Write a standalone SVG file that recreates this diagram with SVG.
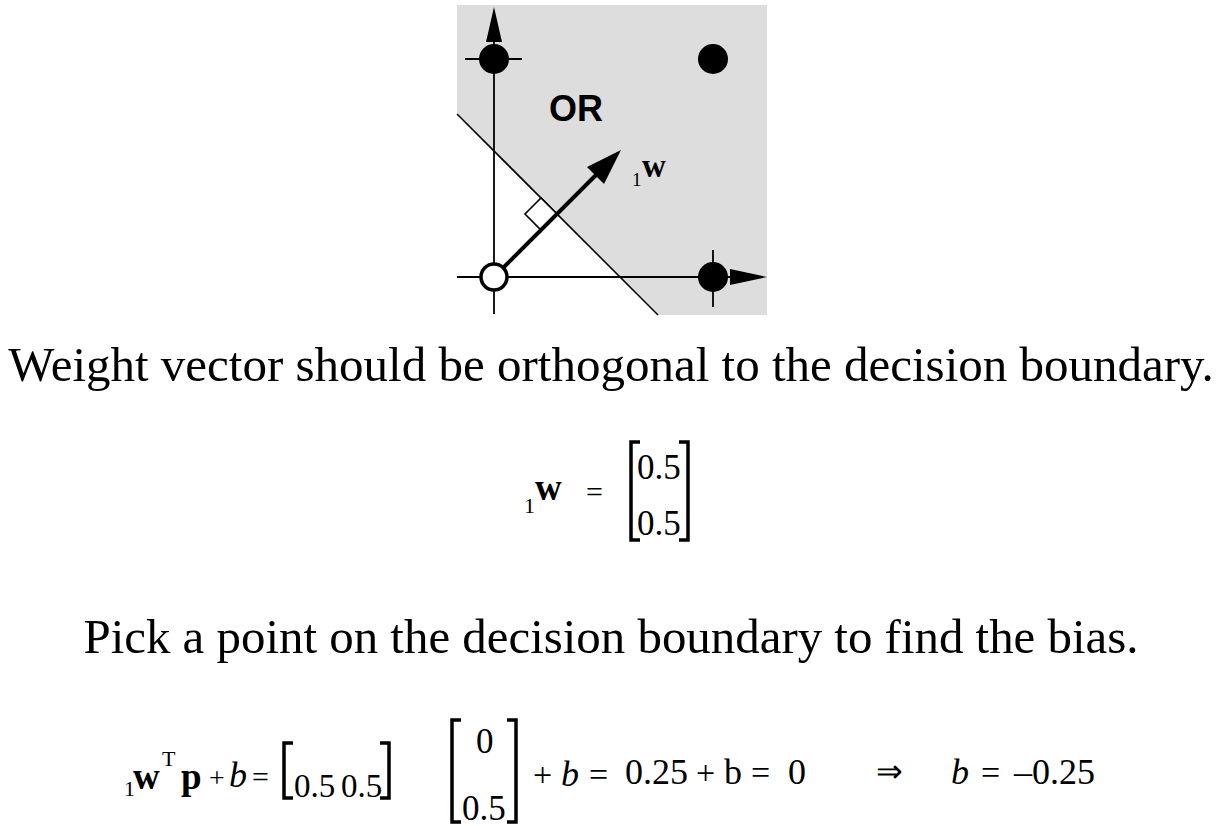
<svg xmlns="http://www.w3.org/2000/svg" width="1218" height="826" viewBox="0 0 1218 826">
<style>
.s{font-family:"Liberation Serif","Times New Roman",serif;fill:#000}
.bd{font-weight:bold}
.it{font-style:italic}
.ln{stroke:#000;fill:none}
.br{stroke:#000;fill:none;stroke-width:3.5}
</style>
<rect width="1218" height="826" fill="#fff"/>
<g id="plot">
  <rect x="457" y="5" width="310" height="310" fill="#dddddd"/>
  <polygon points="457,114 457,315 658,315" fill="#fff"/>
  <line class="ln" x1="457" y1="114" x2="658" y2="315" stroke-width="1.6"/>
  <line class="ln" x1="494" y1="314" x2="494" y2="40" stroke-width="1.8"/>
  <polygon points="494,7 486,42 502,42" fill="#000"/>
  <line class="ln" x1="457" y1="277" x2="732" y2="277" stroke-width="1.8"/>
  <polygon points="767,277 730,269 730,285" fill="#000"/>
  <line class="ln" x1="465" y1="59" x2="522" y2="59" stroke-width="1.8"/>
  <line class="ln" x1="713" y1="250" x2="713" y2="307" stroke-width="1.8"/>
</g>
<g id="points">
  <circle cx="494" cy="59" r="15" fill="#000"/>
  <circle cx="713" cy="59" r="15" fill="#000"/>
  <circle cx="713" cy="277" r="15" fill="#000"/>
  <circle cx="494" cy="277" r="13" fill="#fff" stroke="#000" stroke-width="3.5"/>
</g>
<g id="connectors">
  <polygon points="557,214 541,198 525,214 541,230" fill="#fff" stroke="#000" stroke-width="1.6"/>
  <line class="ln" x1="504" y1="267" x2="598" y2="173" stroke-width="4"/>
  <polygon points="621,150 587,167 604,184" fill="#000"/>
</g>
<g id="labels">
  <text x="549" y="121" font-family="Liberation Sans, Arial, sans-serif" font-weight="bold" font-size="36">OR</text>
  <text class="s" x="632" y="186" font-size="19">1</text>
  <text class="s bd" x="642" y="177" font-size="33">w</text>
</g>
<g id="text1">
  <text class="s" x="611" y="381" font-size="49" text-anchor="middle">Weight vector should be orthogonal to the decision boundary.</text>
  <text class="s" x="611" y="653" font-size="48.9" text-anchor="middle">Pick a point on the decision boundary to find the bias.</text>
</g>
<g id="eq1">
  <text class="s" x="524" y="513" font-size="22">1</text>
  <text class="s bd" x="535" y="500" font-size="37">w</text>
  <text class="s" x="586" y="502" font-size="30">=</text>
  <path class="br" d="M640,442 H631 V540 H640"/>
  <path class="br" d="M679,442 H688 V540 H679"/>
  <text class="s" x="637" y="479" font-size="35">0.5</text>
  <text class="s" x="637" y="535" font-size="35">0.5</text>
</g>
<g id="eq2">
  <text class="s" x="124" y="796" font-size="22">1</text>
  <text class="s bd" x="133" y="789" font-size="37">w</text>
  <text class="s" x="162" y="766" font-size="22">T</text>
  <text class="s bd" x="181" y="789" font-size="37">p</text>
  <text class="s" x="209" y="787" font-size="28">+</text>
  <text class="s it" x="229" y="787" font-size="36">b</text>
  <text class="s" x="252" y="787" font-size="30">=</text>
  <path class="br" d="M293,743 H284 V798 H293"/>
  <text class="s" x="294" y="797" font-size="33">0.5</text>
  <text class="s" x="341" y="797" font-size="33">0.5</text>
  <path class="br" d="M380,743 H389 V798 H380"/>
  <path class="br" d="M461,720 H452 V822 H461"/>
  <text class="s" x="476" y="753" font-size="35">0</text>
  <text class="s" x="462" y="820" font-size="35">0.5</text>
  <path class="br" d="M507,720 H516 V822 H507"/>
  <text class="s" x="533" y="786" font-size="34">+</text>
  <text class="s it" x="561" y="786" font-size="36">b</text>
  <text class="s" x="589" y="786" font-size="34">=</text>
  <text class="s" x="625" y="784" font-size="36">0.25</text>
  <text class="s" x="696" y="784" font-size="34">+</text>
  <text class="s" x="724" y="784" font-size="36">b</text>
  <text class="s" x="751" y="784" font-size="34">=</text>
  <text class="s" x="788" y="784" font-size="36">0</text>
  <text class="s" x="876" y="782" font-size="32">⇒</text>
  <text class="s it" x="951" y="784" font-size="36">b</text>
  <text class="s" x="981" y="784" font-size="34">=</text>
  <text class="s" x="1014" y="784" font-size="36">–0.25</text>
</g>
</svg>
